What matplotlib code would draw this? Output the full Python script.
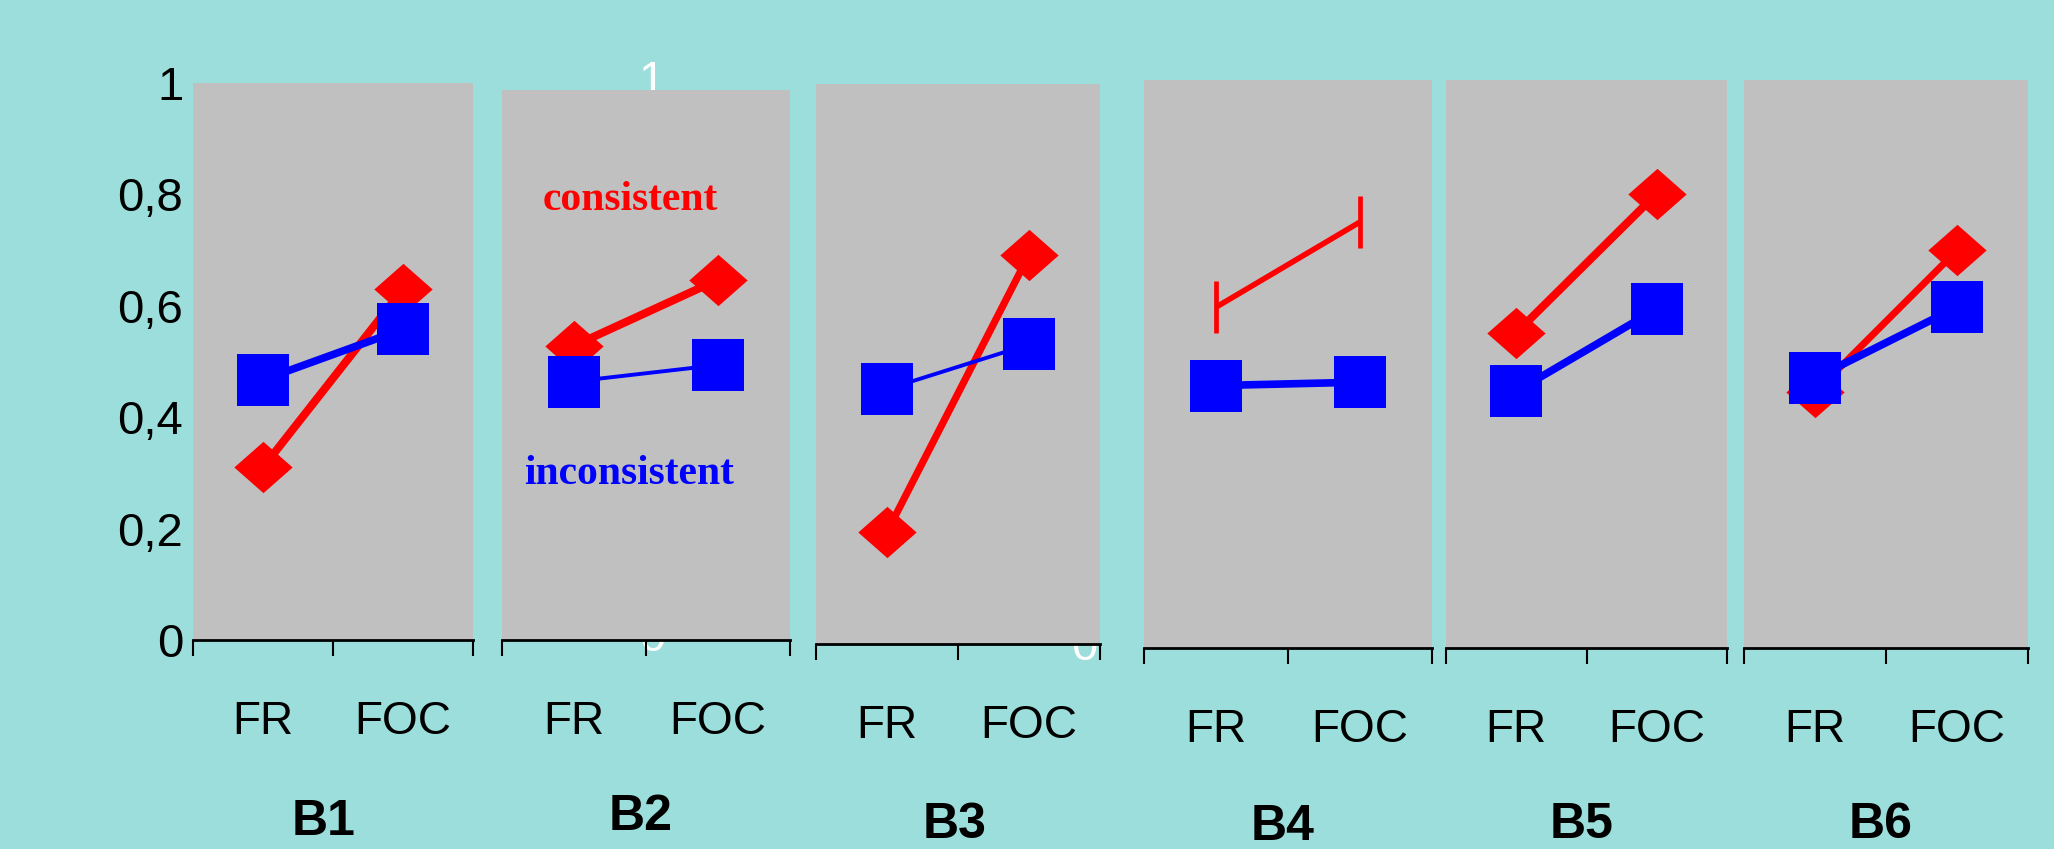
import matplotlib.pyplot as plt
from matplotlib.path import Path

plt.rcParams['font.family'] = ['Liberation Sans', 'DejaVu Sans']

# data
panels = ['B1', 'B2', 'B3', 'B4', 'B5', 'B6']
conditions = ['FR', 'FOC']
consistent = [[0.31, 0.63], [0.535, 0.655], [0.20, 0.695],
              [0.60, 0.75], [0.555, 0.80], [0.45, 0.70]]
inconsistent = [[0.467, 0.558], [0.47, 0.50], [0.455, 0.535],
                [0.462, 0.468], [0.452, 0.597], [0.475, 0.60]]
yticks = [0, 0.2, 0.4, 0.6, 0.8, 1]
ytick_labels = ['0', '0,2', '0,4', '0,6', '0,8', '1']

W, H = 2054, 849
bg = '#9BDEDB'
panel_bg = '#C0C0C0'

# panel boxes in pixels: left, top, right, bottom
boxes = [(193, 83, 473, 640), (502, 90, 790, 640), (816, 84, 1100, 644),
         (1144, 80, 1432, 648), (1446, 80, 1727, 648), (1744, 80, 2028, 648)]
blue_lw = [5.5, 2.8, 2.8, 5.5, 5.5, 5.5]
red_lw = [5.8, 5.8, 5.2, 4.0, 5.8, 5.0]
# panel name positions (center x, baseline y) in pixels
name_pos = [(324, 835), (641, 830), (955, 838), (1283, 840), (1582, 838), (1881, 838)]

diamond = Path([(-1, 0), (0, 0.88), (1, 0), (0, -0.88), (-1, 0)])

fig = plt.figure(figsize=(W / 100, H / 100), dpi=100, facecolor=bg)

for i, name in enumerate(panels):
    l, t, r, b = boxes[i]
    ax = fig.add_axes([l / W, 1 - b / H, (r - l) / W, (b - t) / H])
    ax.set_facecolor(panel_bg)
    x = [0, 1]
    if name == 'B4':
        ax.plot(x, consistent[i], color='red', lw=red_lw[i], marker='|',
                ms=37, mew=3.4, solid_capstyle='butt')
    else:
        ax.plot(x, consistent[i], color='red', lw=red_lw[i], marker=diamond,
                ms=42, mew=0)
    ax.plot(x, inconsistent[i], color='blue', lw=blue_lw[i], marker='s',
            ms=37, mew=0)

    ax.set_xlim(-0.5, 1.5)
    ax.set_ylim(0, 1)
    for s in ['left', 'right', 'top']:
        ax.spines[s].set_visible(False)
    ax.spines['bottom'].set_linewidth(2)
    ax.spines['bottom'].set_color('black')

    ax.set_xticks([-0.5, 0.5, 1.5])
    ax.set_xticklabels([])
    ax.tick_params(axis='x', which='major', direction='out', length=11.5, width=1.5)
    ax.set_xticks([0, 1], minor=True)
    ax.set_xticklabels(conditions, minor=True, fontsize=33)
    ax.tick_params(axis='x', which='minor', length=0, pad=43)

    if i == 0:
        ax.set_yticks(yticks)
        ax.set_yticklabels(ytick_labels, fontsize=34)
        ax.tick_params(axis='y', length=0, pad=7)
    else:
        ax.set_yticks([])

    if name == 'B2':
        ax.text(0.444, 0.80, 'consistent', transform=ax.transAxes, color='red',
                fontsize=30, fontweight='bold', family='Liberation Serif',
                ha='center', va='center')
        ax.text(0.441, 0.302, 'inconsistent', transform=ax.transAxes, color='blue',
                fontsize=30, fontweight='bold', family='Liberation Serif',
                ha='center', va='center')

    cx, by = name_pos[i]
    fig.text(cx / W, 1 - by / H, name, fontsize=36, fontweight='bold',
             ha='center', va='baseline')

# stray white axis labels peeking out behind the panels
fig.text(651 / W, 1 - 82 / H, '1', color='white', fontsize=34, ha='center', va='center', zorder=-1)
fig.text(652 / W, 1 - 639 / H, '0', color='white', fontsize=34, ha='center', va='center', zorder=-1)
fig.text(1084 / W, 1 - 648 / H, '0', color='white', fontsize=34, ha='center', va='center', zorder=-1)

fig.savefig('out.png', dpi=100, facecolor=bg)
